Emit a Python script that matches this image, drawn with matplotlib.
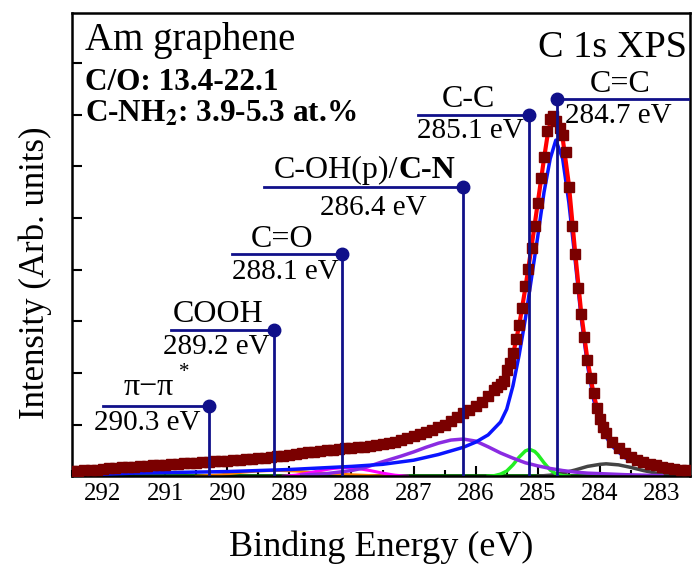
import matplotlib
matplotlib.use("Agg")
import matplotlib.pyplot as plt
from matplotlib.ticker import MultipleLocator, NullFormatter

plt.rcParams["font.family"] = ["Liberation Serif", "DejaVu Serif"]
plt.rcParams["mathtext.fontset"] = "stix"

# measured spectrum (binding energy in eV, intensity in arb. units)
data_e = [292.5, 292.4, 292.3, 292.2, 292.1, 292.0, 291.9, 291.8, 291.7, 291.6,
          291.5, 291.4, 291.3, 291.2, 291.1, 291.0, 290.9, 290.8, 290.7, 290.6,
          290.5, 290.4, 290.3, 290.2, 290.1, 290.0, 289.9, 289.8, 289.7, 289.6,
          289.5, 289.4, 289.3, 289.2, 289.1, 289.0, 288.9, 288.8, 288.7, 288.6,
          288.5, 288.4, 288.3, 288.2, 288.1, 288.0, 287.9, 287.8, 287.7, 287.6,
          287.5, 287.4, 287.3, 287.2, 287.1, 287.0, 286.9, 286.8, 286.7, 286.6,
          286.5, 286.4, 286.3, 286.2, 286.1, 286.0, 285.9, 285.8, 285.7,
          285.65, 285.6, 285.55, 285.5, 285.45, 285.4, 285.35, 285.3, 285.25, 285.2,
          285.15, 285.1, 285.05, 285.0, 284.95, 284.9, 284.85, 284.8, 284.75, 284.7,
          284.65, 284.6, 284.55, 284.5, 284.45, 284.4, 284.35, 284.3, 284.25, 284.2,
          284.15, 284.1, 284.05, 284.0, 283.95, 283.9,
          283.8, 283.7, 283.6, 283.5, 283.4, 283.3, 283.2, 283.1, 283.0, 282.9,
          282.8, 282.7, 282.6]
data_i = [0.10, 0.11, 0.12, 0.12, 0.13, 0.14, 0.15, 0.16, 0.17, 0.17,
          0.18, 0.19, 0.20, 0.21, 0.22, 0.22, 0.23, 0.24, 0.25, 0.26,
          0.26, 0.27, 0.28, 0.29, 0.29, 0.30, 0.31, 0.32, 0.33, 0.34,
          0.35, 0.36, 0.38, 0.39, 0.40, 0.42, 0.43, 0.44, 0.46, 0.47,
          0.48, 0.50, 0.51, 0.52, 0.54, 0.55, 0.56, 0.57, 0.58, 0.60,
          0.62, 0.64, 0.67, 0.70, 0.74, 0.78, 0.82, 0.86, 0.90, 0.95,
          1.00, 1.07, 1.14, 1.22, 1.29, 1.36, 1.44, 1.56, 1.67,
          1.73, 1.78, 1.85, 2.05, 2.20, 2.38, 2.65, 2.92, 3.25, 3.68,
          4.02, 4.42, 4.85, 5.30, 5.78, 6.18, 6.68, 6.92, 6.98, 6.88,
          6.75, 6.60, 6.28, 5.60, 4.85, 4.30, 3.65, 3.15, 2.70, 2.25,
          1.90, 1.62, 1.33, 1.10, 0.95, 0.83,
          0.67, 0.54, 0.45, 0.37, 0.32, 0.27, 0.24, 0.21, 0.18, 0.16,
          0.14, 0.13, 0.12]

# envelope of the fit
fit_e = [292.5, 291.5, 290.5, 290.0, 289.5, 289.0, 288.5, 288.0, 287.5, 287.0,
         286.5, 286.2, 286.0, 285.8, 285.6, 285.5, 285.4, 285.3, 285.2, 285.1,
         285.0, 284.9, 284.85, 284.8, 284.75, 284.7, 284.65, 284.6, 284.5, 284.4,
         284.3, 284.2, 284.1, 284.0, 283.9, 283.8, 283.6, 283.4, 283.2, 283.0,
         282.8, 282.55]
fit_i = [0.12, 0.18, 0.26, 0.30, 0.35, 0.42, 0.48, 0.55, 0.62, 0.78,
         1.00, 1.20, 1.35, 1.54, 1.78, 2.00, 2.35, 2.92, 3.65, 4.45,
         5.30, 6.15, 6.55, 6.85, 6.98, 6.95, 6.80, 6.55, 5.65, 4.35,
         3.15, 2.25, 1.58, 1.10, 0.82, 0.65, 0.44, 0.32, 0.24, 0.18,
         0.14, 0.12]

# fitted components
cc_sp2_e = [292.5, 292.0, 291.5, 291.0, 290.5, 290.0, 289.5, 289.0, 288.5, 288.0,
            287.5, 287.0, 286.6, 286.2, 286.0, 285.8, 285.6, 285.5, 285.4, 285.3,
            285.2, 285.1, 285.0, 284.9, 284.8, 284.71, 284.6, 284.5, 284.4, 284.3,
            284.2, 284.1, 284.0, 283.9, 283.8, 283.6, 283.4, 283.2, 283.0, 282.7,
            282.55]
cc_sp2_i = [0.03, 0.04, 0.06, 0.07, 0.08, 0.09, 0.11, 0.13, 0.16, 0.19,
            0.23, 0.31, 0.42, 0.56, 0.66, 0.80, 1.05, 1.30, 1.75, 2.35,
            3.05, 3.85, 4.65, 5.50, 6.15, 6.51, 6.15, 5.30, 4.20, 3.05,
            2.15, 1.48, 1.03, 0.76, 0.58, 0.36, 0.24, 0.16, 0.12, 0.08,
            0.07]

coh_e = [288.8, 288.4, 288.0, 287.8, 287.5, 287.2, 287.0, 286.8, 286.6, 286.4,
         286.2, 286.0, 285.8, 285.6, 285.4, 285.2, 285.0, 284.8, 284.6, 284.4,
         284.2, 284.0, 283.6, 283.0]
coh_i = [0.02, 0.05, 0.11, 0.16, 0.28, 0.39, 0.47, 0.56, 0.64, 0.70,
         0.72, 0.68, 0.57, 0.45, 0.35, 0.26, 0.20, 0.15, 0.11, 0.08,
         0.06, 0.05, 0.03, 0.01]

cc_sp3_e = [285.8, 285.7, 285.6, 285.5, 285.4, 285.3, 285.2, 285.13, 285.05, 285.0,
            284.9, 284.8, 284.7, 284.6, 284.5]
cc_sp3_i = [0.0, 0.01, 0.04, 0.10, 0.22, 0.37, 0.49, 0.52, 0.48, 0.42,
            0.26, 0.12, 0.04, 0.01, 0.0]

defect_e = [285.0, 284.8, 284.6, 284.4, 284.2, 284.0, 283.9, 283.7, 283.5, 283.3,
            283.1, 282.9, 282.7]
defect_i = [0.0, 0.02, 0.06, 0.12, 0.19, 0.23, 0.24, 0.22, 0.17, 0.11,
            0.06, 0.03, 0.01]

co_e = [289.1, 288.9, 288.7, 288.5, 288.3, 288.1, 287.9, 287.7, 287.5, 287.3, 287.1]
co_i = [0.0, 0.02, 0.06, 0.11, 0.15, 0.17, 0.15, 0.11, 0.06, 0.02, 0.0]

cooh_e = [290.5, 290.1, 289.8, 289.5, 289.2, 288.9, 288.6, 288.3, 288.0, 287.6, 287.2]
cooh_i = [0.0, 0.03, 0.07, 0.10, 0.11, 0.10, 0.07, 0.05, 0.03, 0.01, 0.0]

base_e = [292.5, 282.55]
base_i = [0.02, 0.02]

x_ticks = [292, 291, 290, 289, 288, 287, 286, 285, 284, 283]
x_tick_labels = ["292", "291", "290", "289", "288", "287", "286", "285", "284", "283"]

# peak markers
peak_names = ["\u03c0\u2212\u03c0", "COOH", "C=O", "C-OH(p)/", "C-C", "C=C"]
peak_labels = ["290.3 eV", "289.2 eV", "288.1 eV", "286.4 eV", "285.1 eV", "284.7 eV"]
peak_pos = [290.3, 289.25, 288.15, 286.2, 285.14, 284.69]
peak_top = [1.36, 2.83, 4.30, 5.60, 7.00, 7.31]
bar_end = [292.0, 290.9, 289.92, 289.41, 286.93, 282.58]

navy = "#10108a"
serif = "Liberation Serif"

fig = plt.figure(figsize=(6.94, 5.71), dpi=100)
ax = fig.add_axes([0.1037, 0.166, 0.8905, 0.811])

ax.plot(base_e, base_i, color="#006400", lw=2, zorder=2)
ax.plot(cooh_e, cooh_i, color="#ff8000", lw=2, zorder=2)
ax.plot(co_e, co_i, color="#ff00ff", lw=2.2, zorder=2)
ax.plot(defect_e, defect_i, color="#444444", lw=2.5, zorder=2)
ax.plot(cc_sp3_e, cc_sp3_i, color="#22ee22", lw=2.5, zorder=2)
ax.plot(coh_e, coh_i, color="#8a2be2", lw=2.5, zorder=2)
ax.plot(cc_sp2_e, cc_sp2_i, color="#0a14ff", lw=2.5, zorder=3)
ax.plot(fit_e, fit_i, color="#ff0000", lw=3, zorder=4)
ax.plot(data_e, data_i, ls="none", marker="s", ms=7.5, color="#7a0000", zorder=5)

for x, top, end in zip(peak_pos, peak_top, bar_end):
    ax.plot([x, x], [0, top], color=navy, lw=2, zorder=6)
    ax.plot([end, x], [top, top], color=navy, lw=2, zorder=6)
    ax.plot(x, top, "o", color=navy, ms=9, zorder=7)

name_fs = 23
value_fs = 21
# name above the bar, value below
name_xy = [(291.27, 1.57), (290.15, 2.98), (289.12, 4.44), (287.25, 5.78), (286.12, 7.15), (283.68, 7.44)]
value_xy = [(291.28, 0.89), (290.17, 2.36), (289.07, 3.82), (287.65, 5.06), (286.09, 6.55), (283.71, 6.84)]
for i, name in enumerate(peak_names):
    nx, ny = name_xy[i]
    vx, vy = value_xy[i]
    if name.endswith("/"):
        ax.text(nx, ny, name, fontsize=name_fs, ha="right", va="baseline", zorder=8)
        ax.text(nx, ny, "C-N", fontsize=name_fs, fontweight="bold", ha="left", va="baseline", zorder=8)
    else:
        ax.text(nx, ny, name, fontsize=name_fs, ha="center", va="baseline", zorder=8)
    ax.text(vx, vy, peak_labels[i], fontsize=value_fs, ha="center", va="baseline", zorder=8)
ax.text(290.7, 1.93, "*", fontsize=15, ha="center", va="baseline")

ax.text(0.021, 0.92, "Am graphene", transform=ax.transAxes, fontsize=28, ha="left", va="baseline")
ax.text(0.995, 0.905, "C 1s XPS", transform=ax.transAxes, fontsize=27.5, ha="right", va="baseline")
ax.text(0.021, 0.834, "C/O: 13.4-22.1", transform=ax.transAxes, fontsize=22.5,
        fontweight="bold", ha="left", va="baseline")
ax.text(0.021, 0.765, r"C-NH$_\mathbf{2}$: 3.9-5.3 at.%", transform=ax.transAxes,
        fontsize=22.5, fontweight="bold", ha="left", va="baseline")

ax.set_xlim(292.5, 282.55)
ax.set_ylim(0, 8.97)
ax.set_xticks(x_ticks, labels=x_tick_labels, fontsize=18, fontfamily=serif)
ax.xaxis.set_minor_locator(MultipleLocator(0.5))
ax.yaxis.set_major_locator(MultipleLocator(1))
ax.yaxis.set_major_formatter(NullFormatter())
ax.tick_params(axis="x", which="major", direction="in", length=7, width=1.5, pad=5)
ax.tick_params(axis="x", which="minor", direction="in", length=4, width=1.5)
ax.tick_params(axis="y", which="major", direction="in", length=7, width=1.5, left=True, right=False)
for sp in ax.spines.values():
    sp.set_linewidth(1.8)

ax.set_xlabel("Binding Energy (eV)", fontsize=26, labelpad=18)
ax.set_ylabel("Intensity (Arb. units)", fontsize=25)
ax.yaxis.set_label_coords(-0.033, 0.44)

fig.savefig("out.png", dpi=100)
